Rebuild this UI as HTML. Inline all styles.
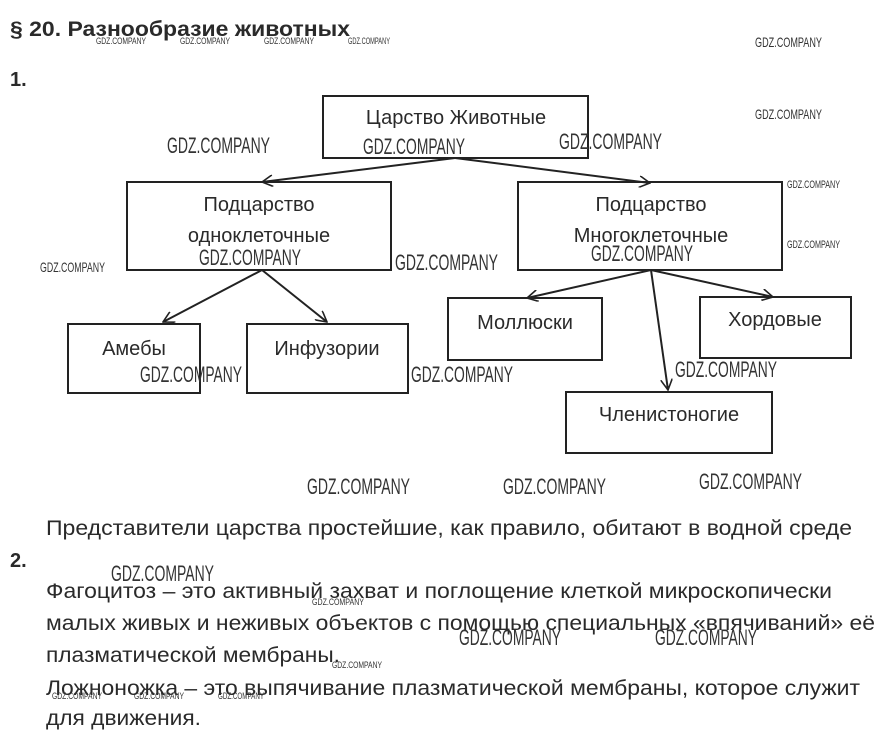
<!DOCTYPE html>
<html><head><meta charset="utf-8"><style>
html,body{margin:0;padding:0;background:#fff;width:887px;height:738px;overflow:hidden}
svg{display:block}
.t{font-family:"Liberation Sans",sans-serif;fill:#2a2a2a}
.w{font-family:"Liberation Sans",sans-serif;fill:#333}
</style></head><body>
<svg width="887" height="738" viewBox="0 0 887 738" xmlns="http://www.w3.org/2000/svg">
<defs><marker id="a" viewBox="0 0 12 12" refX="11" refY="6" markerWidth="12" markerHeight="12" markerUnits="userSpaceOnUse" orient="auto"><path d="M0,0 L11,6 L0,12" fill="none" stroke="#222" stroke-width="1.6"/></marker></defs>
<text class="t" x="10" y="36" font-size="21" font-weight="bold" textLength="340" lengthAdjust="spacingAndGlyphs">§ 20. Разнообразие животных</text>
<text class="t" x="10" y="86" font-size="20" font-weight="bold">1.</text>
<g fill="none" stroke="#222" stroke-width="2">
<rect x="323" y="96" width="265" height="62"/>
<rect x="127" y="182" width="264" height="88"/>
<rect x="518" y="182" width="264" height="88"/>
<rect x="68" y="324" width="132" height="69"/>
<rect x="247" y="324" width="161" height="69"/>
<rect x="448" y="298" width="154" height="62"/>
<rect x="700" y="297" width="151" height="61"/>
<rect x="566" y="392" width="206" height="61"/>
</g>
<g stroke="#222" stroke-width="2" marker-end="url(#a)">
<line x1="455" y1="158" x2="262" y2="182"/>
<line x1="455" y1="158" x2="650" y2="183"/>
<line x1="262" y1="270" x2="163" y2="322"/>
<line x1="262" y1="270" x2="327" y2="322"/>
<line x1="651" y1="270" x2="527" y2="298"/>
<line x1="651" y1="270" x2="773" y2="297"/>
<line x1="651" y1="270" x2="668" y2="390"/>
</g>
<g class="t" font-size="20" text-anchor="middle">
<text x="456" y="124">Царство Животные</text>
<text x="259" y="211">Подцарство</text>
<text x="259" y="242">одноклеточные</text>
<text x="651" y="211">Подцарство</text>
<text x="651" y="242">Многоклеточные</text>
<text x="134" y="355">Амебы</text>
<text x="327" y="355">Инфузории</text>
<text x="525" y="329">Моллюски</text>
<text x="775" y="326">Хордовые</text>
<text x="669" y="421">Членистоногие</text>
</g>
<g class="t" font-size="21">
<text x="46" y="535" textLength="806" lengthAdjust="spacingAndGlyphs">Представители царства простейшие, как правило, обитают в водной среде</text>
<text x="10" y="567" font-weight="bold" font-size="20">2.</text>
<text x="46" y="598" textLength="786" lengthAdjust="spacingAndGlyphs">Фагоцитоз – это активный захват и поглощение клеткой микроскопически</text>
<text x="46" y="630" textLength="829" lengthAdjust="spacingAndGlyphs">малых живых и неживых объектов с помощью специальных «впячиваний» её</text>
<text x="46" y="662" textLength="294" lengthAdjust="spacingAndGlyphs">плазматической мембраны.</text>
<text x="46" y="695" textLength="814" lengthAdjust="spacingAndGlyphs">Ложноножка – это выпячивание плазматической мембраны, которое служит</text>
<text x="46" y="725" textLength="155" lengthAdjust="spacingAndGlyphs">для движения.</text>
</g>
<g class="w" font-size="22" lengthAdjust="spacingAndGlyphs">
<text x="167" y="153" textLength="103" lengthAdjust="spacingAndGlyphs">GDZ.COMPANY</text>
<text x="363" y="154" textLength="102" lengthAdjust="spacingAndGlyphs">GDZ.COMPANY</text>
<text x="559" y="149" textLength="103" lengthAdjust="spacingAndGlyphs">GDZ.COMPANY</text>
<text x="199" y="265" textLength="102" lengthAdjust="spacingAndGlyphs">GDZ.COMPANY</text>
<text x="395" y="270" textLength="103" lengthAdjust="spacingAndGlyphs">GDZ.COMPANY</text>
<text x="591" y="261" textLength="102" lengthAdjust="spacingAndGlyphs">GDZ.COMPANY</text>
<text x="140" y="382" textLength="102" lengthAdjust="spacingAndGlyphs">GDZ.COMPANY</text>
<text x="411" y="382" textLength="102" lengthAdjust="spacingAndGlyphs">GDZ.COMPANY</text>
<text x="675" y="377" textLength="102" lengthAdjust="spacingAndGlyphs">GDZ.COMPANY</text>
<text x="307" y="494" textLength="103" lengthAdjust="spacingAndGlyphs">GDZ.COMPANY</text>
<text x="503" y="494" textLength="103" lengthAdjust="spacingAndGlyphs">GDZ.COMPANY</text>
<text x="699" y="489" textLength="103" lengthAdjust="spacingAndGlyphs">GDZ.COMPANY</text>
<text x="111" y="581" textLength="103" lengthAdjust="spacingAndGlyphs">GDZ.COMPANY</text>
<text x="459" y="645" textLength="102" lengthAdjust="spacingAndGlyphs">GDZ.COMPANY</text>
<text x="655" y="645" textLength="102" lengthAdjust="spacingAndGlyphs">GDZ.COMPANY</text>
</g>
<g class="w" font-size="14">
<text x="755" y="47" textLength="67" lengthAdjust="spacingAndGlyphs">GDZ.COMPANY</text>
<text x="755" y="119" textLength="67" lengthAdjust="spacingAndGlyphs">GDZ.COMPANY</text>
<text x="40" y="272" textLength="65" lengthAdjust="spacingAndGlyphs">GDZ.COMPANY</text>
</g>
<g class="w" font-size="11">
<text x="787" y="188" textLength="53" lengthAdjust="spacingAndGlyphs">GDZ.COMPANY</text>
<text x="787" y="248" textLength="53" lengthAdjust="spacingAndGlyphs">GDZ.COMPANY</text>
</g>
<g class="w" font-size="9">
<text x="96" y="44" textLength="50" lengthAdjust="spacingAndGlyphs">GDZ.COMPANY</text>
<text x="180" y="44" textLength="50" lengthAdjust="spacingAndGlyphs">GDZ.COMPANY</text>
<text x="264" y="44" textLength="50" lengthAdjust="spacingAndGlyphs">GDZ.COMPANY</text>
<text x="348" y="44" textLength="42" lengthAdjust="spacingAndGlyphs">GDZ.COMPANY</text>
<text x="312" y="605" textLength="52" lengthAdjust="spacingAndGlyphs">GDZ.COMPANY</text>
<text x="332" y="668" textLength="50" lengthAdjust="spacingAndGlyphs">GDZ.COMPANY</text>
<text x="52" y="699" textLength="50" lengthAdjust="spacingAndGlyphs">GDZ.COMPANY</text>
<text x="134" y="699" textLength="50" lengthAdjust="spacingAndGlyphs">GDZ.COMPANY</text>
<text x="218" y="699" textLength="46" lengthAdjust="spacingAndGlyphs">GDZ.COMPANY</text>
</g>
</svg>
</body></html>
